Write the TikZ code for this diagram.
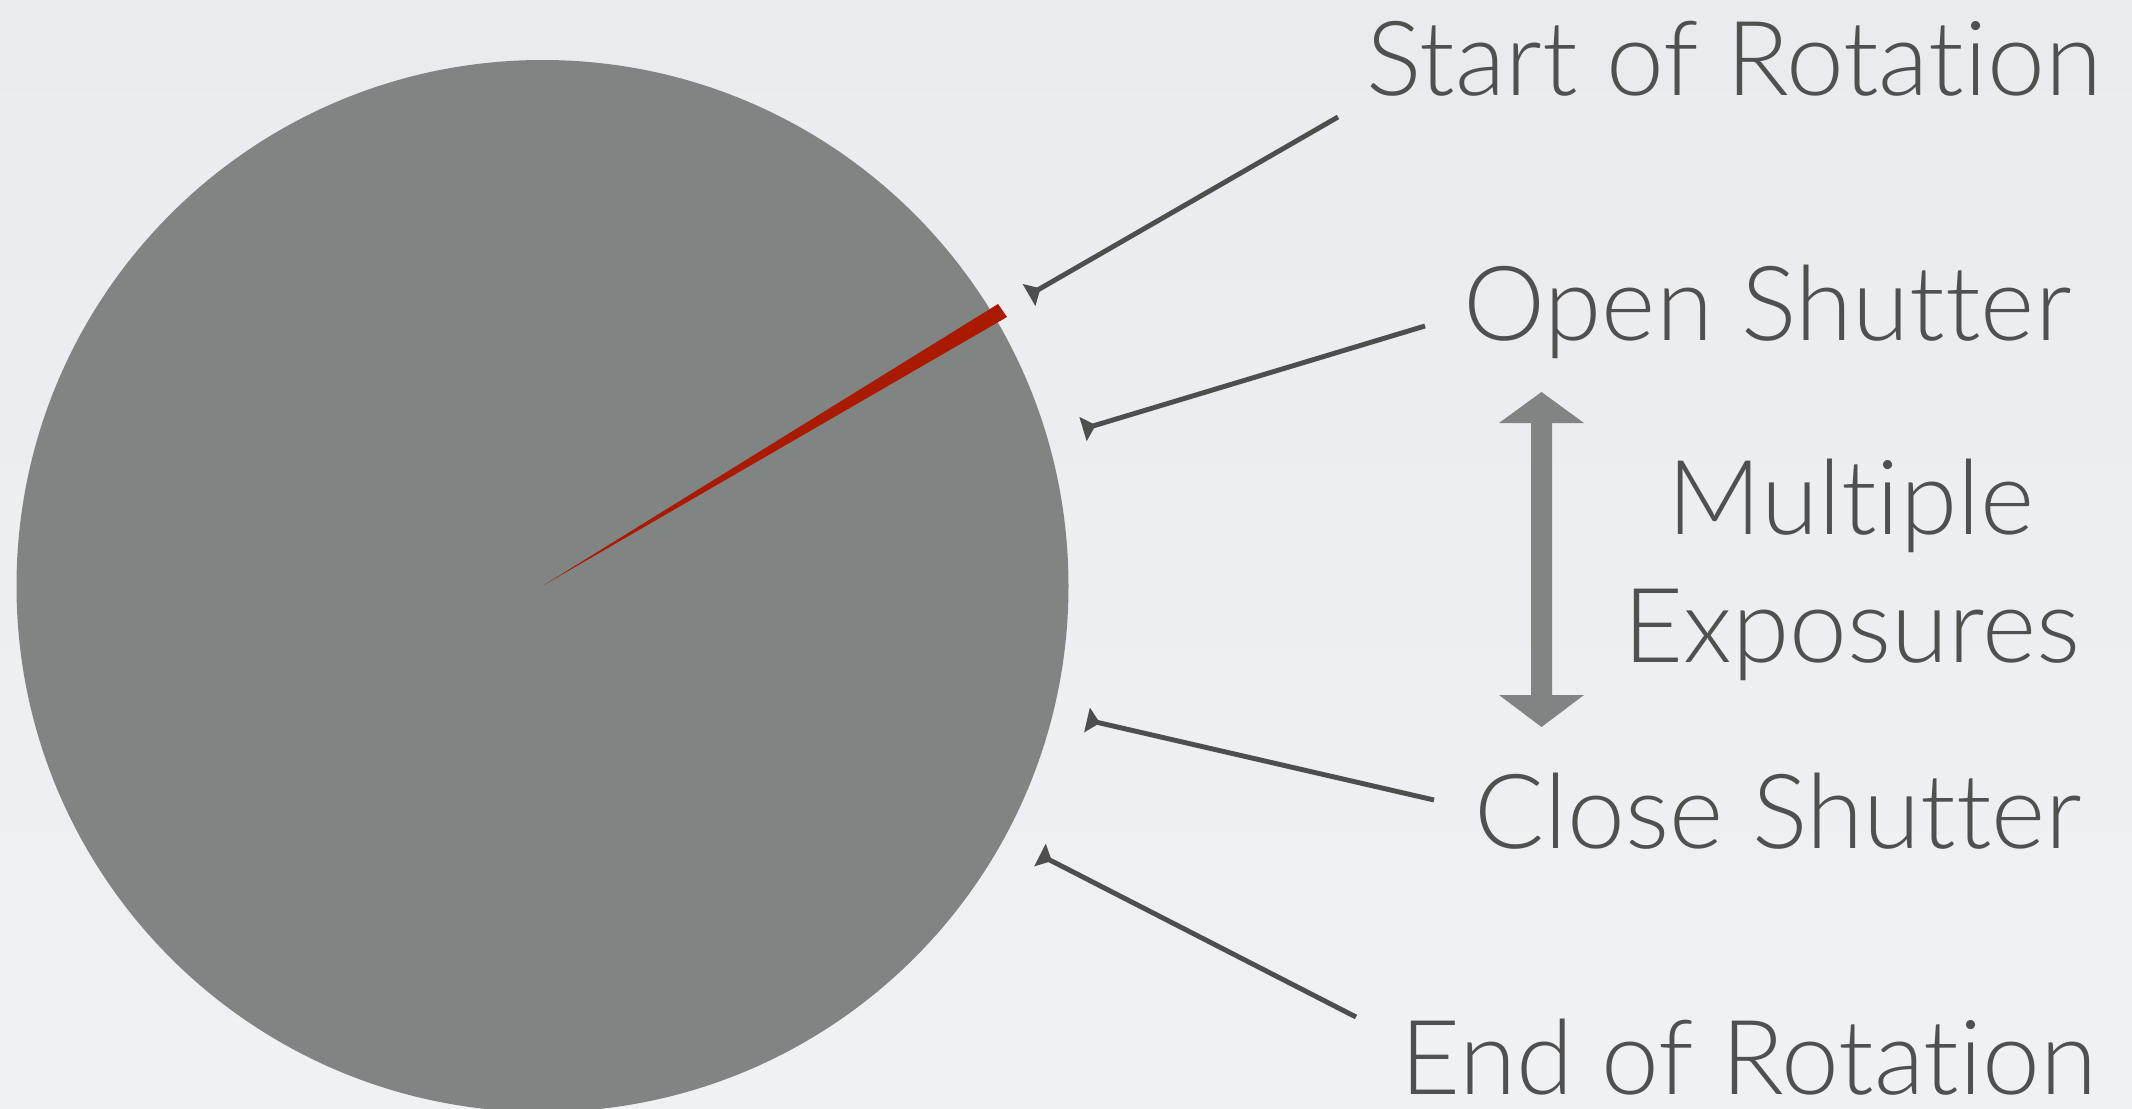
\documentclass[tikz,border=0pt]{standalone}
\usepackage{fontspec}
\setmainfont{Lato}[UprightFont={* Light}, Ligatures={NoCommon,NoRare,NoContextual}]
\usetikzlibrary{arrows.meta}
\definecolor{bgtop}{HTML}{EAEBEE}
\definecolor{bgbot}{HTML}{F0F1F3}
\definecolor{diskc}{HTML}{808583}
\definecolor{redc}{HTML}{AA1A00}
\definecolor{linec}{HTML}{4E4E4E}
\definecolor{textc}{HTML}{505050}
\tikzset{
  lbl/.style={inner sep=0pt, text=textc, font=\fontsize{29.5pt}{36pt}\selectfont},
  pointer/.style={draw=linec, line width=1.4pt, -{Triangle[reversed, length=3.8pt, width=7pt]}},
}
\begin{document}
\begin{tikzpicture}[x=0.01cm, y=-0.01cm]
\useasboundingbox (0,0) rectangle (2132,1109);
\shade[top color=bgtop, bottom color=bgbot] (0,0) rectangle (2132,1109);
\begin{scope}
  \clip (0,0) rectangle (2132,1109);
  \fill[diskc] (542.5,586) circle[radius=526];
\end{scope}
% red hand
\fill[redc] (544,585) -- (998,304) -- (1007,317) -- cycle;
% double arrow
\fill[diskc] (1541.5,392) -- (1584,423) -- (1552,423) -- (1552,695) -- (1584,695)
  -- (1541.5,727) -- (1499,695) -- (1531,695) -- (1531,423) -- (1499,423) -- cycle;
% labels
\node[lbl, anchor=base west] (start) at (1366,95) {Start of Rotation};
\node[lbl, anchor=base west] (open) at (1463,340) {Open Shutter};
\node[lbl, anchor=base] (mult) at (1851,534) {Multiple};
\node[lbl, anchor=base] (expo) at (1852,662) {Exposures};
\node[lbl, anchor=base west] (close) at (1474,848) {Close Shutter};
\node[lbl, anchor=base west] (endr) at (1400,1094) {End of Rotation};
% connector ends
\coordinate (s1) at (1338,117);
\coordinate (e1) at (1029,295);
\coordinate (s2) at (1425,326);
\coordinate (e2) at (1083,429);
\coordinate (s3) at (1434,800);
\coordinate (e3) at (1087,720);
\coordinate (s4) at (1356,1017);
\coordinate (e4) at (1040,855);
\draw[pointer] (s1) -- (e1);
\draw[pointer] (s2) -- (e2);
\draw[pointer] (s3) -- (e3);
\draw[pointer] (s4) -- (e4);
\end{tikzpicture}
\end{document}
